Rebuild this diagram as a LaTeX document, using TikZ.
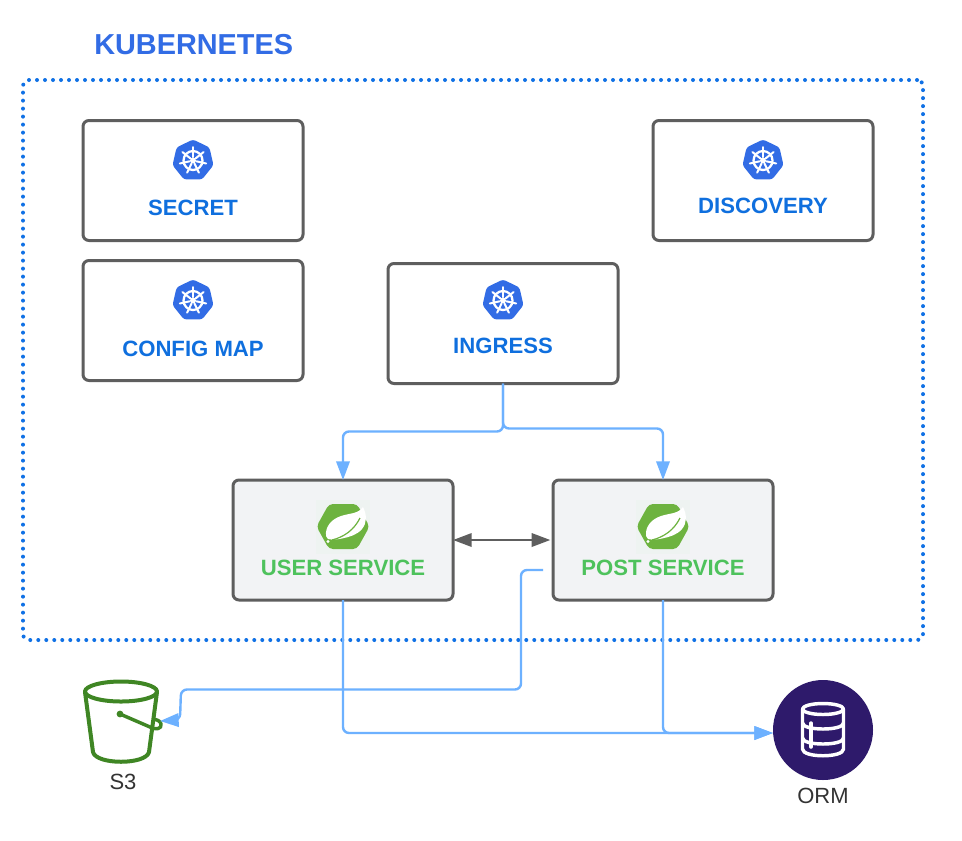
\documentclass[tikz,border=0pt]{standalone}
\usepackage{fontspec}
\setmainfont{Liberation Sans}
\usetikzlibrary{arrows.meta}
\definecolor{kblue}{HTML}{326CE5}
\definecolor{lblue}{HTML}{0F6FDE}
\definecolor{dotblue}{HTML}{1071E5}
\definecolor{sgreen}{HTML}{4EC25C}
\definecolor{leafgreen}{HTML}{6DB33F}
\definecolor{flowblue}{HTML}{6DB1FF}
\definecolor{edgegray}{HTML}{5E5E5E}
\definecolor{svcfill}{HTML}{F2F3F5}
\definecolor{iconbg}{HTML}{EEF3F1}
\definecolor{bucket}{HTML}{3F8624}
\definecolor{ormpurple}{HTML}{2E1A6B}
\definecolor{textgray}{HTML}{333333}
\tikzset{
  x=0.75pt,y=-0.75pt,
  box/.style={draw=edgegray,line width=2.25pt,rounded corners=4.5pt,fill=white,minimum width=165pt,minimum height=90pt,outer sep=0pt,inner sep=0pt},
  svc/.style={box,fill=svcfill},
  klabel/.style={text=lblue,font=\fontsize{16.6pt}{18pt}\selectfont\bfseries,inner sep=0pt},
  slabel/.style={text=sgreen,font=\fontsize{16.6pt}{18pt}\selectfont\bfseries,inner sep=0pt},
  caption/.style={text=textgray,font=\fontsize{16.5pt}{18pt}\selectfont,inner sep=0pt},
  flow/.style={draw=flowblue,line width=1.8pt,rounded corners=4.5pt,-{Triangle[length=14pt,width=10pt]}},
  link/.style={draw=edgegray,line width=1.8pt,{Triangle[length=14pt,width=10pt]}-{Triangle[length=14pt,width=10pt]}},
  kube/.pic={
    \fill[kblue,rounded corners=2pt] (-90:21) -- (-38.57:21) -- (12.86:21) -- (64.29:21) -- (115.71:21) -- (167.14:21) -- (218.57:21) -- cycle;
    \draw[white,line width=1.7pt] (0,0) circle (9.5);
    \foreach \a in {-90,-38.57,12.86,64.29,115.71,167.14,218.57}{
      \draw[white,line width=1.5pt,line cap=round] (\a:3.5) -- (\a:13.5);
    }
    \fill[white] (0,0) circle (3);
  },
  springicon/.pic={
    \fill[iconbg] (-27,-27) rectangle (27,27);
    \fill[leafgreen,rounded corners=3pt] (-14,-23) -- (14,-23) -- (26.5,-0.5) -- (14,22) -- (-14,22) -- (-26.5,-0.5) -- cycle;
    \fill[white] (-17,9) .. controls (-18,-1) and (-11,-8) .. (-2,-11)
      .. controls (7,-14) and (15,-13) .. (20,-20)
      .. controls (24,-12) and (24,-4) .. (19,2)
      .. controls (14,8) and (6,10) .. (-1,11.5)
      .. controls (-6,12.5) and (-11,13) .. (-15,12) -- cycle;
    \draw[leafgreen,line width=0.9pt] (-11,13) .. controls (1,10) and (11,3) .. (17,-9);
    \fill[white] (-15,14.5) circle (1.7);
  },
}
\begin{document}
\begin{tikzpicture}
\useasboundingbox[fill=white] (0,0) rectangle (962,840);
% Frame
\node[inner sep=0pt,text=kblue,font=\fontsize{21.65pt}{23pt}\selectfont\bfseries,anchor=west] (title) at (94,45) {KUBERNETES};
\node[draw=dotblue,line width=3pt,dash pattern=on 0pt off 6pt,line cap=round,rounded corners=4.5pt,minimum width=675pt,minimum height=420pt,inner sep=0pt,outer sep=0pt] (cluster) at (473,360) {};
% Boxes
\node[box] (secret) at (193,180.5) {};
\node[box] (config) at (193,320.5) {};
\node[box] (discovery) at (763,180.5) {};
\node[box,minimum width=172.5pt] (ingress) at (503,323.5) {};
\node[svc] (user) at (343,540) {};
\node[svc] (post) at (663,540) {};
% Icons
\pic at (193,160.5) {kube};
\pic at (193,300.5) {kube};
\pic at (763,160.5) {kube};
\pic at (503,300.5) {kube};
\pic at (343,527) {springicon};
\pic at (663,527) {springicon};
% Labels
\node[klabel] (secretl) at (193,208) {SECRET};
\node[klabel] (configl) at (193,349) {CONFIG MAP};
\node[klabel] (discoveryl) at (763,205.5) {DISCOVERY};
\node[klabel] (ingressl) at (503,345.5) {INGRESS};
\node[slabel] (userl) at (343,568) {USER SERVICE};
\node[slabel] (postl) at (663,568) {POST SERVICE};
% S3 bucket
\node[circle,inner sep=0pt,minimum size=1pt] (s3) at (160,721) {};
\begin{scope}[line width=3pt,line join=round,line cap=round]
  \draw[bucket] (121,691.5) ellipse (36 and 10);
  \draw[bucket] (85,692) -- (93,752) .. controls (96,765) and (146,765) .. (149,752) -- (157,692);
  \draw[bucket,line width=2.6pt] (120,714) -- (150,727) .. controls (156,730) and (162,729) .. (161,724) .. controls (160,720) and (156,720) .. (154,719);
\end{scope}
\fill[bucket] (120,714) circle (3.4);
\node[caption] (s3l) at (123,782) {S3};
% ORM
\node[circle,fill=ormpurple,minimum size=75pt,inner sep=0pt,outer sep=0pt] (orm) at (823,730) {};
\begin{scope}[line width=2.6pt,line cap=round,line join=round]
  \draw[white] (823,709) ellipse (20.5 and 5.5);
  \draw[white] (802.5,709) -- (802.5,749) .. controls (802.5,758) and (843.5,758) .. (843.5,749) -- (843.5,709);
  \draw[white] (802.5,723) .. controls (802.5,731) and (843.5,731) .. (843.5,723);
  \draw[white] (802.5,738) .. controls (802.5,746) and (843.5,746) .. (843.5,738);
  \draw[white] (811,723) -- (811,747);
\end{scope}
\node[caption] (orml) at (823,796) {ORM};
% Connectors
\coordinate (postout) at (543,570);
\coordinate (ormin) at (orm.west |- 0,733);
\draw[flow] (ingress.south) -- (ingress.south |- 0,431.5) -- (user.north |- 0,431.5) -- (user.north);
\draw[flow] (ingress.south) -- (ingress.south |- 0,428.5) -- (post.north |- 0,428.5) -- (post.north);
\draw[link,shorten >=2pt] (user.east) -- (post.west);
\draw[flow] (postout) -- (521,570) -- (521,689.5) -- (181,689.5) -- (180,720) -- (s3.center);
\draw[flow] (user.south) -- (user.south |- 0,733) -- (ormin);
\draw[flow] (post.south) -- (post.south |- 0,733) -- (ormin);
\end{tikzpicture}
\end{document}
